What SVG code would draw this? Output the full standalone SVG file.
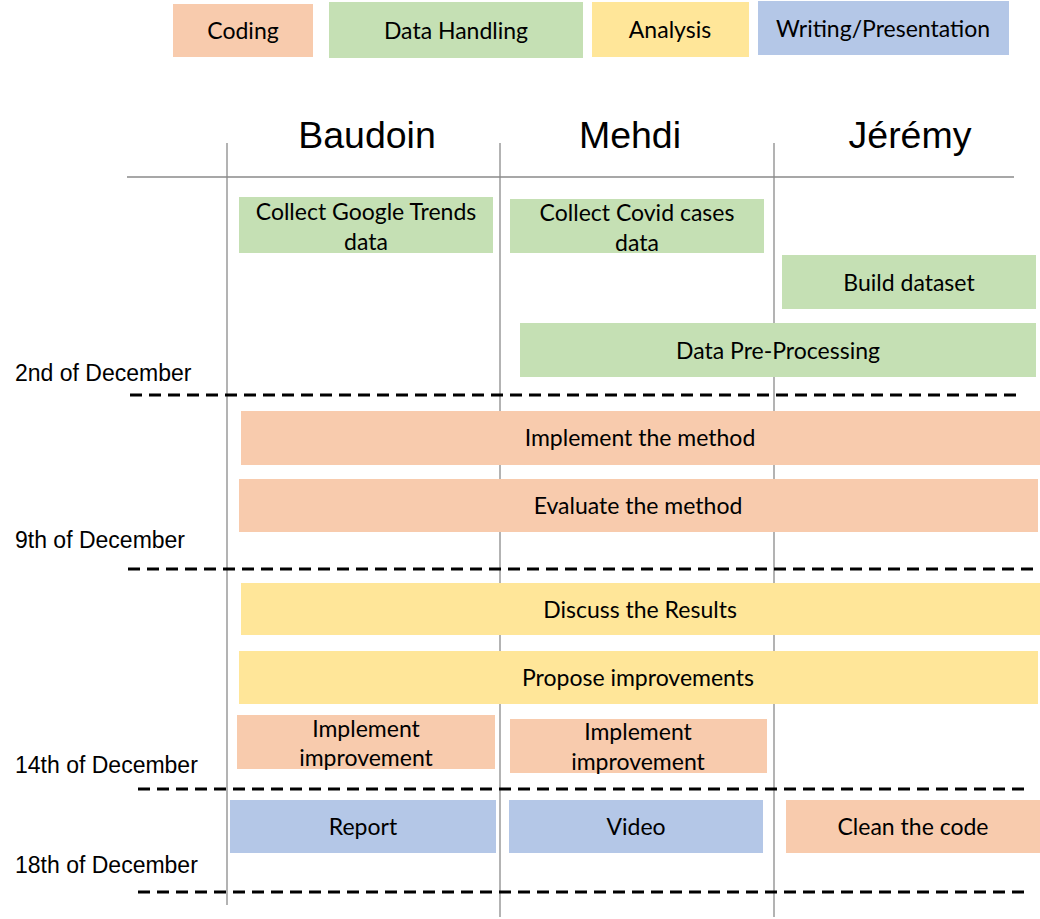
<svg xmlns="http://www.w3.org/2000/svg" width="1040" height="919" viewBox="0 0 1040 919">
<style>
.code{fill:#F8CBAD}.data{fill:#C5E0B4}.ana{fill:#FFE699}.wri{fill:#B4C7E7}
.t{font-family:Lato,"Open Sans","Liberation Sans",sans-serif;font-size:23px;fill:#000;text-anchor:middle}
.h{font-family:"Liberation Sans",Arial,sans-serif;font-size:37.5px;fill:#000;text-anchor:middle}
.d{font-family:"Liberation Sans",Arial,sans-serif;font-size:23px;fill:#000}
.g{stroke:#8a8a8a;stroke-width:1.3;fill:none}
.dash{stroke:#000;stroke-width:3;stroke-dasharray:12 7;fill:none}
</style>
<rect width="1040" height="919" fill="#fff"/>
<g id="legend">
<rect class="code" x="173" y="4" width="140" height="53"/><text class="t" x="243" y="39">Coding</text>
<rect class="data" x="329" y="2" width="254" height="56"/><text class="t" x="456" y="39">Data Handling</text>
<rect class="ana" x="592" y="2" width="157" height="55"/><text class="t" x="670" y="38">Analysis</text>
<rect class="wri" x="758" y="1" width="251" height="54"/><text class="t" x="883" y="37">Writing/Presentation</text>
</g>
<g id="grid">
<line class="g" x1="227" y1="143" x2="227" y2="905"/>
<line class="g" x1="500" y1="143" x2="500" y2="917"/>
<line class="g" x1="774" y1="143" x2="774" y2="917"/>
<line class="g" x1="127" y1="177" x2="1014" y2="177"/>
</g>
<g id="headers">
<text class="h" x="367" y="148">Baudoin</text>
<text class="h" x="630" y="148">Mehdi</text>
<text class="h" x="910" y="148">Jérémy</text>
</g>
<g id="dates">
<text class="d" x="15" y="381">2nd of December</text>
<text class="d" x="15" y="548">9th of December</text>
<text class="d" x="15" y="773">14th of December</text>
<text class="d" x="15" y="873">18th of December</text>
</g>
<g id="dividers">
<line class="dash" x1="130" y1="395" x2="1018" y2="395"/>
<line class="dash" x1="128" y1="569" x2="1036" y2="569"/>
<line class="dash" x1="138" y1="789" x2="1026" y2="789"/>
<line class="dash" x1="138" y1="892" x2="1026" y2="892"/>
</g>
<g id="task-collect-google">
<rect class="data" x="239" y="197" width="254" height="56"/>
<text class="t" x="366" y="220">Collect Google Trends</text><text class="t" x="366" y="250">data</text>
</g>
<g id="task-collect-covid">
<rect class="data" x="510" y="199" width="254" height="54"/>
<text class="t" x="637" y="221">Collect Covid cases</text><text class="t" x="637" y="251">data</text>
</g>
<g id="task-build-dataset">
<rect class="data" x="782" y="255" width="254" height="54"/>
<text class="t" x="909" y="291">Build dataset</text>
</g>
<g id="task-preprocessing">
<rect class="data" x="520" y="323" width="516" height="54"/>
<text class="t" x="778" y="359">Data Pre-Processing</text>
</g>
<g id="task-implement-method">
<rect class="code" x="241" y="411" width="799" height="54"/>
<text class="t" x="640" y="446">Implement the method</text>
</g>
<g id="task-evaluate-method">
<rect class="code" x="239" y="479" width="799" height="53"/>
<text class="t" x="638" y="514">Evaluate the method</text>
</g>
<g id="task-discuss">
<rect class="ana" x="241" y="583" width="799" height="52"/>
<text class="t" x="640" y="618">Discuss the Results</text>
</g>
<g id="task-propose">
<rect class="ana" x="239" y="651" width="799" height="53"/>
<text class="t" x="638" y="686">Propose improvements</text>
</g>
<g id="task-impl-improvement-b">
<rect class="code" x="237" y="715" width="258" height="54"/>
<text class="t" x="366" y="737">Implement</text><text class="t" x="366" y="766">improvement</text>
</g>
<g id="task-impl-improvement-m">
<rect class="code" x="510" y="719" width="257" height="54"/>
<text class="t" x="638" y="740">Implement</text><text class="t" x="638" y="770">improvement</text>
</g>
<g id="task-report">
<rect class="wri" x="230" y="800" width="266" height="53"/>
<text class="t" x="363" y="835">Report</text>
</g>
<g id="task-video">
<rect class="wri" x="509" y="800" width="254" height="53"/>
<text class="t" x="636" y="835">Video</text>
</g>
<g id="task-clean">
<rect class="code" x="786" y="800" width="254" height="53"/>
<text class="t" x="913" y="835">Clean the code</text>
</g>
</svg>
